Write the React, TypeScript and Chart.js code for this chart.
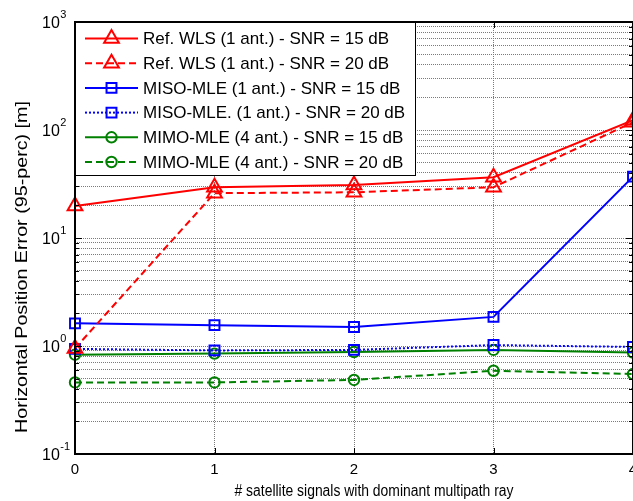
import React, { useEffect, useRef } from 'react';
import { Chart, registerables } from 'chart.js';
import { drawPoint } from 'chart.js/helpers';

Chart.register(...registerables);

const FONT = '"Liberation Sans", Arial, Helvetica, sans-serif';

// Number of satellite signals whose dominant ray is a multipath ray
const satSignals = [0, 1, 2, 3, 4];

// 95th-percentile horizontal position error [m]
const refWls15 = [19.8, 29.5, 31, 36.5, 123];
const refWls20 = [0.95, 26, 26.5, 29.5, 118];
const misoMle15 = [1.62, 1.56, 1.5, 1.86, 37];
const misoMle20 = [0.94, 0.91, 0.92, 1.02, 0.98];
const mimoMle15 = [0.83, 0.85, 0.88, 0.92, 0.87];
const mimoMle20 = [0.46, 0.46, 0.485, 0.59, 0.55];

const seriesLabels = [
  'Ref. WLS (1 ant.) - SNR = 15 dB',
  'Ref. WLS (1 ant.) - SNR = 20 dB',
  'MISO-MLE (1 ant.) - SNR = 15 dB',
  'MISO-MLE. (1 ant.) - SNR = 20 dB',
  'MIMO-MLE (4 ant.) - SNR = 15 dB',
  'MIMO-MLE (4 ant.) - SNR = 20 dB',
];

const xTickValues = [0, 1, 2, 3, 4];
const xTickLabels = ['0', '1', '2', '3', '4'];
const yDecadeExponents = [-1, 0, 1, 2, 3];
const yMantissas = [1, 2, 3, 4, 5, 6, 7, 8, 9];

const xTitle = '# satellite signals with dominant multipath ray';
const yTitle = 'Horizontal Position Error (95-perc) [m]';

const RED = '#ff0000';
const BLUE = '#0000ff';
const GREEN = '#008000';
const SOLID: number[] = [];
const DASHED = [7, 4];
const DOTTED = [2, 2];
const GRID = '#7a7a7a';

// every log tick from 10^-1 up to 10^3
const yTickValues: number[] = [];
yDecadeExponents.forEach((e) => {
  if (e === yDecadeExponents[yDecadeExponents.length - 1]) {
    yTickValues.push(Math.pow(10, e));
  } else {
    yMantissas.forEach((m) => yTickValues.push(+(m * Math.pow(10, e)).toPrecision(6)));
  }
});

function series(label: string, values: number[], color: string, dash: number[], style: string, radius: number) {
  return {
    label,
    data: satSignals.map((x, i) => ({ x, y: values[i] })),
    borderColor: color,
    borderWidth: 2,
    borderDash: dash,
    pointStyle: style,
    pointRadius: radius,
    pointBorderColor: color,
    pointBackgroundColor: 'rgba(0,0,0,0)',
    pointBorderWidth: 2,
    fill: false,
    tension: 0,
    clip: false as any,
  };
}

function line(ctx: CanvasRenderingContext2D, x1: number, y1: number, x2: number, y2: number) {
  ctx.beginPath();
  ctx.moveTo(x1, y1);
  ctx.lineTo(x2, y2);
  ctx.stroke();
}

// draws text centred on (0,0) of the current frame, scaled to a given length
function fitText(ctx: CanvasRenderingContext2D, text: string, length: number) {
  const w = ctx.measureText(text).width;
  ctx.save();
  ctx.scale(length / w, 1);
  ctx.fillText(text, 0, 0);
  ctx.restore();
}

const frameAndLegend = {
  id: 'frameAndLegend',
  afterDatasetsDraw(chart: any) {
    const { ctx, chartArea: a, scales } = chart;
    const xs = scales.x;
    const ys = scales.y;
    ctx.save();
    ctx.strokeStyle = '#000';
    ctx.setLineDash([]);

    // inward tick marks on all four sides
    ctx.lineWidth = 1;
    ys.ticks.forEach((t: any) => {
      const py = Math.round(ys.getPixelForValue(t.value)) + 0.5;
      const isDecade = Math.abs(Math.log10(t.value) - Math.round(Math.log10(t.value))) < 1e-9;
      const len = isDecade ? 7 : 4;
      line(ctx, a.left, py, a.left + len, py);
      line(ctx, a.right, py, a.right - len, py);
    });
    xs.ticks.forEach((t: any) => {
      const px = Math.round(xs.getPixelForValue(t.value)) + 0.5;
      line(ctx, px, a.bottom, px, a.bottom - 6);
      line(ctx, px, a.top, px, a.top + 6);
    });

    // axes box
    ctx.lineWidth = 2;
    line(ctx, a.left, a.top, a.right, a.top);
    line(ctx, a.left, a.top - 1, a.left, a.bottom + 1);
    line(ctx, a.left, a.bottom, a.right, a.bottom);
    line(ctx, a.right, a.top, a.right, a.bottom);

    // legend box in the upper-left corner
    const lx = a.left + 0.5;
    const ly = a.top + 0.5;
    const lw = 340;
    const lh = 153;
    ctx.fillStyle = '#fff';
    ctx.fillRect(lx, ly, lw, lh);
    ctx.lineWidth = 1;
    ctx.strokeRect(lx, ly, lw, lh);

    ctx.font = `17px ${FONT}`;
    ctx.textBaseline = 'middle';
    ctx.textAlign = 'left';
    chart.data.datasets.forEach((ds: any, i: number) => {
      const ry = a.top + 16.5 + i * 24.7;
      ctx.strokeStyle = ds.borderColor;
      ctx.lineWidth = 2;
      ctx.setLineDash(ds.borderDash);
      line(ctx, a.left + 10, ry, a.left + 63, ry);
      ctx.setLineDash([]);
      ctx.fillStyle = 'rgba(0,0,0,0)';
      drawPoint(ctx, { pointStyle: ds.pointStyle, radius: ds.pointRadius, rotation: 0, borderWidth: 2 } as any, a.left + 36.5, ry);
      ctx.fillStyle = '#000';
      ctx.fillText(ds.label, a.left + 68, ry + 1);
    });
    ctx.restore();
  },
  afterDraw(chart: any) {
    const { ctx, scales } = chart;
    const xs = scales.x;
    const ys = scales.y;
    ctx.save();
    ctx.fillStyle = '#000';
    ctx.textBaseline = 'middle';
    ctx.textAlign = 'left';

    // y tick labels as 10 with a raised exponent
    yDecadeExponents.forEach((e) => {
      const py = ys.getPixelForValue(Math.pow(10, e));
      ctx.font = `16px ${FONT}`;
      ctx.fillText('10', 42, py + 2);
      const w = ctx.measureText('10').width;
      ctx.font = `11px ${FONT}`;
      ctx.fillText(String(e), 42 + w + 0.5, py - 7);
    });

    // x tick labels
    ctx.font = `15px ${FONT}`;
    ctx.textAlign = 'center';
    xTickValues.forEach((v, i) => {
      ctx.fillText(xTickLabels[i], xs.getPixelForValue(v), 470);
    });

    // axis titles
    ctx.font = `16px ${FONT}`;
    ctx.save();
    ctx.translate(374, 492);
    fitText(ctx, xTitle, 279);
    ctx.restore();

    ctx.font = `16px ${FONT}`;
    ctx.translate(23, 267);
    ctx.rotate(-Math.PI / 2);
    fitText(ctx, yTitle, 332);
    ctx.restore();
  },
};

export default function App() {
  const canvasRef = useRef<HTMLCanvasElement | null>(null);

  useEffect(() => {
    const canvas = canvasRef.current;
    if (!canvas) return;
    const chart = new Chart(canvas, {
      type: 'line',
      data: {
        datasets: [
          series(seriesLabels[0], refWls15, RED, SOLID, 'triangle', 8.5),
          series(seriesLabels[1], refWls20, RED, DASHED, 'triangle', 8.5),
          series(seriesLabels[2], misoMle15, BLUE, SOLID, 'rect', 7),
          series(seriesLabels[3], misoMle20, BLUE, DOTTED, 'rect', 7),
          series(seriesLabels[4], mimoMle15, GREEN, SOLID, 'circle', 5.2),
          series(seriesLabels[5], mimoMle20, GREEN, DASHED, 'circle', 5.2),
        ] as any,
      },
      options: {
        animation: false,
        responsive: false,
        events: [],
        layout: { autoPadding: false, padding: { top: 22, left: 0, right: 0, bottom: 0 } },
        plugins: {
          legend: { display: false },
          tooltip: { enabled: false },
          title: { display: false },
        },
        scales: {
          x: {
            type: 'linear',
            min: 0,
            max: 4,
            afterBuildTicks: (s: any) => {
              s.ticks = xTickValues.map((v) => ({ value: v }));
            },
            afterFit: (s: any) => {
              s.height = 47;
            },
            ticks: { display: false },
            grid: { color: GRID, lineWidth: 1, drawTicks: false },
            border: { display: false, dash: [1, 1] },
          },
          y: {
            type: 'logarithmic',
            min: 0.1,
            max: 1000,
            afterBuildTicks: (s: any) => {
              s.ticks = yTickValues.map((v) => ({ value: v }));
            },
            afterFit: (s: any) => {
              s.width = 75;
            },
            ticks: { display: false },
            grid: { color: GRID, lineWidth: 1, drawTicks: false },
            border: { display: false, dash: [1, 1] },
          },
        },
      } as any,
      plugins: [frameAndLegend],
    });
    return () => chart.destroy();
  }, []);

  return (
    <div style={{ position: 'fixed', left: 0, top: 0, width: 633, height: 501, background: '#fff' }}>
      <canvas ref={canvasRef} width={633} height={501} style={{ display: 'block' }} />
    </div>
  );
}
